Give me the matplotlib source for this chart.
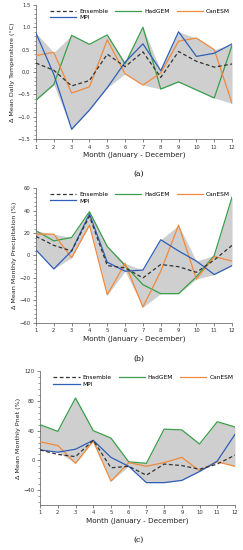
import matplotlib
matplotlib.use("Agg")
import matplotlib.pyplot as plt
import numpy as np
from matplotlib.ticker import MultipleLocator

months = list(range(1, 13))

# Panel (a): temperature change (°C)
temp_ens = [0.20, 0.04, -0.31, -0.19, 0.40, 0.12, 0.45, -0.12, 0.46, 0.24, 0.11, 0.18]
temp_had = [-0.63, -0.28, 0.82, 0.62, 0.83, 0.18, 1.00, -0.38, -0.22, -0.40, -0.58, 0.60]
temp_can = [0.37, 0.44, -0.47, -0.33, 0.72, -0.04, -0.29, -0.02, 0.69, 0.76, 0.50, -0.70]
temp_mpi = [0.87, -0.05, -1.28, -0.85, -0.35, 0.22, 0.63, 0.03, 0.90, 0.35, 0.42, 0.63]

# Panel (b): precipitation change (%)
prec_ens = [17, 9, 4, 35, -9, -11, -20, -8, -10, -15, -4, 9]
prec_had = [22, 13, 16, 39, 8, -9, -26, -34, -34, -19, 0, 52]
prec_can = [19, 19, -2, 27, -35, -7, -46, -14, 27, -21, -1, -5]
prec_mpi = [5, -12, 4, 37, -6, -14, -13, 14, 4, -5, -17, -9]

# Panel (c): Pnet change (%)
pnet_ens = [14, 8, 5, 27, -10, -8, -20, -5, -7, -12, -5, 7]
pnet_had = [48, 39, 84, 40, 30, -2, -4, 42, 41, 22, 52, 45]
pnet_can = [25, 20, -4, 26, -28, -3, -8, -3, 4, -14, -2, -8]
pnet_mpi = [14, 11, 15, 27, 4, -8, -30, -30, -27, -15, -1, 35]

C_ENS = "#333333"
C_HAD = "#3a9e4a"
C_CAN = "#f08a3c"
C_MPI = "#2f5fb8"
C_FILL = "#cfcfcf"

fig = plt.figure(figsize=(2.43, 5.5), dpi=100)

panels = [
    dict(pos=[0.148, 0.747, 0.807, 0.244], ens=temp_ens, had=temp_had, can=temp_can, mpi=temp_mpi,
         ylim=(-1.5, 1.5), major=0.5, minor=0.1, ylabel="\u0394 Mean Daily Temperature (\u00b0C)",
         tag="(a)", tag_y=0.684),
    dict(pos=[0.148, 0.413, 0.807, 0.245], ens=prec_ens, had=prec_had, can=prec_can, mpi=prec_mpi,
         ylim=(-60, 60), major=20, minor=4, ylabel="\u0394 Mean Monthly Precipitation (%)",
         tag="(b)", tag_y=0.347),
    dict(pos=[0.165, 0.082, 0.802, 0.243], ens=pnet_ens, had=pnet_had, can=pnet_can, mpi=pnet_mpi,
         ylim=(-60, 120), major=40, minor=8, ylabel="\u0394 Mean Monthly Pnet (%)",
         tag="(c)", tag_y=0.018),
]

for p in panels:
    ax = fig.add_axes(p["pos"])
    had = np.array(p["had"]); can = np.array(p["can"]); mpi = np.array(p["mpi"])
    stack = np.vstack([had, can, mpi])
    ax.fill_between(months, stack.min(axis=0), stack.max(axis=0), color=C_FILL, lw=0, zorder=1)
    l_ens, = ax.plot(months, p["ens"], color=C_ENS, lw=0.9, ls=(0, (3, 2)), label="Ensemble", zorder=4)
    l_had, = ax.plot(months, had, color=C_HAD, lw=0.9, label="HadGEM", zorder=3)
    l_can, = ax.plot(months, can, color=C_CAN, lw=0.9, label="CanESM", zorder=3)
    l_mpi, = ax.plot(months, mpi, color=C_MPI, lw=0.9, label="MPI", zorder=3)

    ax.set_xlim(1, 12)
    ax.set_ylim(*p["ylim"])
    ax.set_xticks(months)
    ax.yaxis.set_major_locator(MultipleLocator(p["major"]))
    ax.yaxis.set_minor_locator(MultipleLocator(p["minor"]))
    for s in ["top", "right"]:
        ax.spines[s].set_visible(False)
    for s in ["left", "bottom"]:
        ax.spines[s].set_linewidth(0.5)
        ax.spines[s].set_color("#555555")
    ax.tick_params(axis="both", which="major", labelsize=3.8, length=2.5, width=0.5,
                   direction="out", colors="#555555", labelcolor="#333333", pad=1.5)
    ax.tick_params(axis="y", which="minor", length=1.3, width=0.4, direction="out", colors="#555555")
    ax.set_xlabel("Month (January - December)", fontsize=5.2, labelpad=1.5, color="#222222")
    ax.set_ylabel(p["ylabel"], fontsize=4.6, labelpad=2, color="#222222")
    ax.patch.set_alpha(0)

    ax.legend([l_ens, l_mpi, l_had, l_can], ["Ensemble", "MPI", "HadGEM", "CanESM"],
              loc="upper center", bbox_to_anchor=(0.53, 1.0), ncol=3, frameon=False,
              fontsize=4.2, handlelength=4.5, columnspacing=1.2, handletextpad=0.5,
              labelspacing=0.2, borderaxespad=0.3)
    fig.text(0.57, p["tag_y"], p["tag"], fontsize=5.5, family="DejaVu Serif", ha="center", va="center")

fig.savefig("out.png", dpi=100)
